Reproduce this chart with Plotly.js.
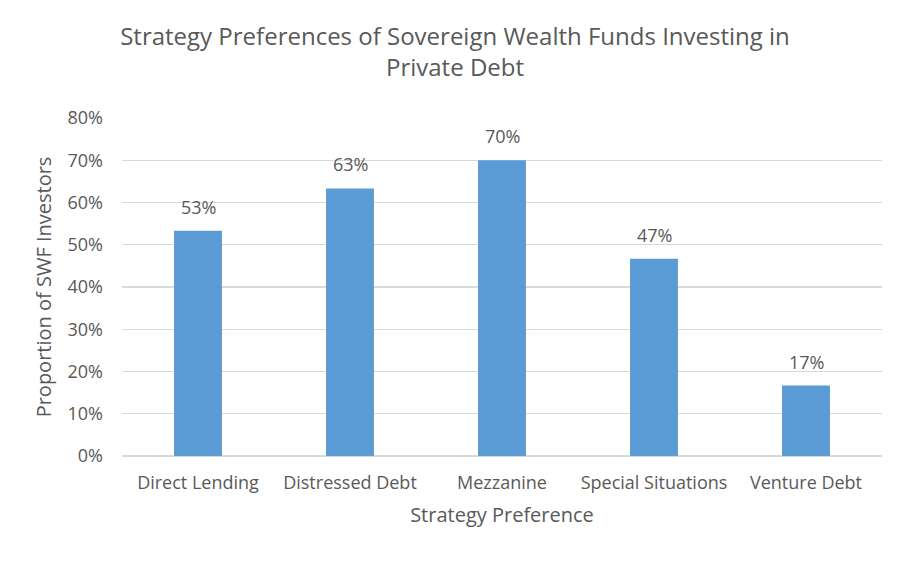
<!DOCTYPE html>
<html>
<head>
<meta charset="utf-8">
<script src="https://cdn.plot.ly/plotly-3.0.1.min.js"></script>
<style>
  html, body { margin: 0; padding: 0; background: #fff; }
  #chart { width: 910px; height: 561px; }
</style>
</head>
<body>
<div id="chart"></div>
<script>
// Strategy preferences data (share of SWF investors)
const strategies = ['Direct Lending', 'Distressed Debt', 'Mezzanine', 'Special Situations', 'Venture Debt'];
const shares = [0.5333, 0.6333, 0.70, 0.4667, 0.1667];
const shareLabels = ['53%', '63%', '70%', '47%', '17%'];
const yTicks = [0, 0.1, 0.2, 0.3, 0.4, 0.5, 0.6, 0.7, 0.8];

const fontFamily = '"Open Sans", Lato, sans-serif';
const textColor = '#595959';
const fontWeight = 400;

const trace = {
    x: strategies,
    y: shares,
    type: 'bar',
    marker: { color: '#5B9BD5' },
    hoverinfo: 'x+y'
};

// value labels sit a bit above each bar
const labels = strategies.map((s, i) => ({
    x: s,
    y: shares[i],
    text: shareLabels[i],
    showarrow: false,
    yanchor: 'bottom',
    yshift: 10,
    font: { family: fontFamily, size: 18, color: textColor, weight: fontWeight }
}));

const layout = {
    width: 910,
    height: 561,
    margin: { t: 118, r: 28, b: 105, l: 122 },
    paper_bgcolor: '#fff',
    plot_bgcolor: '#fff',
    showlegend: false,
    bargap: 0.685,
    font: { family: fontFamily, size: 18, color: textColor, weight: fontWeight },
    title: {
        text: 'Strategy Preferences of Sovereign Wealth Funds Investing in<br>Private Debt',
        x: 0.5,
        xanchor: 'center',
        y: 0.92,
        yanchor: 'top',
        font: { family: fontFamily, size: 24, color: textColor, weight: fontWeight }
    },
    xaxis: {
        showgrid: false,
        showline: false,
        ticks: '',
        ticklabelstandoff: 14,
        tickfont: { size: 18, color: textColor, weight: fontWeight },
        title: { text: 'Strategy Preference', standoff: 14, font: { size: 20, color: textColor, weight: fontWeight } }
    },
    yaxis: {
        range: [0, 0.8],
        tickvals: yTicks,
        tickformat: '.0%',
        showgrid: true,
        gridcolor: '#d9d9d9',
        gridwidth: 1.3,
        zeroline: true,
        zerolinecolor: '#d9d9d9',
        zerolinewidth: 1.3,
        showline: false,
        ticks: '',
        ticklen: 0,
        ticklabelstandoff: 18,
        tickfont: { size: 18, color: textColor, weight: fontWeight },
        title: { text: 'Proportion of SWF Investors', standoff: 10, font: { size: 20, color: textColor, weight: fontWeight } }
    },
    annotations: labels
};

Plotly.newPlot('chart', [trace], layout, { displayModeBar: false, staticPlot: true });
</script>
</body>
</html>
